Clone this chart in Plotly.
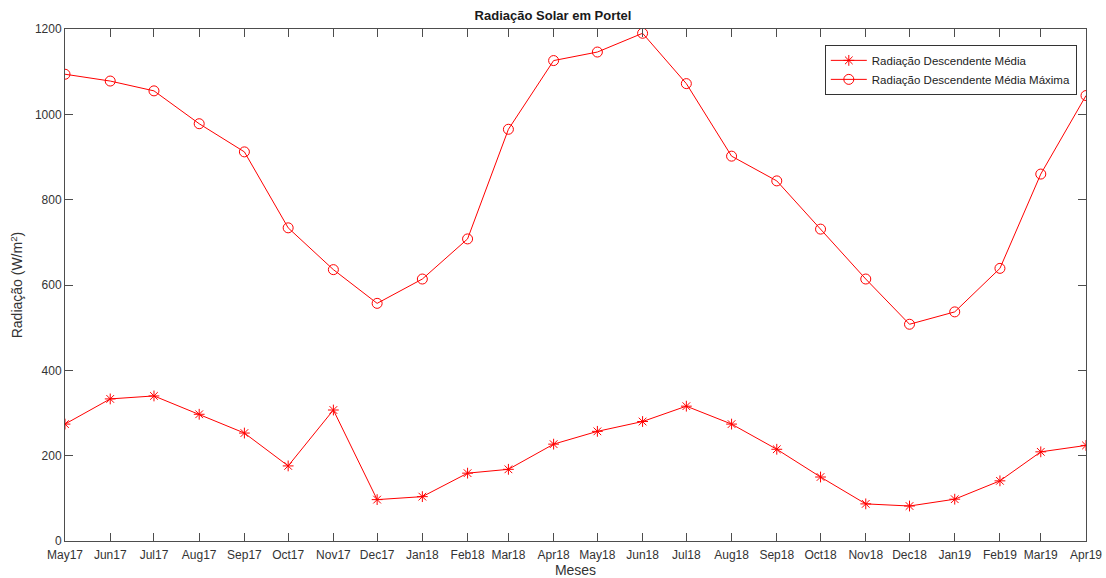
import plotly.graph_objects as go

# Monthly series, May 2017 – April 2019
months = ["2017-05-01", "2017-06-01", "2017-07-01", "2017-08-01", "2017-09-01", "2017-10-01",
          "2017-11-01", "2017-12-01", "2018-01-01", "2018-02-01", "2018-03-01", "2018-04-01",
          "2018-05-01", "2018-06-01", "2018-07-01", "2018-08-01", "2018-09-01", "2018-10-01",
          "2018-11-01", "2018-12-01", "2019-01-01", "2019-02-01", "2019-03-01", "2019-04-01"]

rad_media = [274, 333, 340, 297, 253, 176, 307, 97, 104, 159, 168, 227,
             257, 280, 316, 274, 215, 150, 87, 82, 98, 141, 209, 224]

rad_media_max = [1094, 1078, 1055, 978, 912, 734, 636, 557, 614, 708, 965, 1126,
                 1146, 1190, 1072, 902, 844, 731, 614, 508, 537, 639, 860, 1044]

y_ticks = [0, 200, 400, 600, 800, 1000, 1200]

RED = "#ff0000"
AXIS = "#4d4d4d"
FONT = "Liberation Sans, Arial, sans-serif"

fig = go.Figure()
fig.add_trace(go.Scatter(
    x=months, y=rad_media, mode="lines+markers",
    name="Radiação Descendente Média",
    line=dict(color=RED, width=1),
    marker=dict(symbol="asterisk-open", size=9, color=RED, line=dict(color=RED, width=1)),
))
fig.add_trace(go.Scatter(
    x=months, y=rad_media_max, mode="lines+markers",
    name="Radiação Descendente Média Máxima",
    line=dict(color=RED, width=1),
    marker=dict(symbol="circle-open", size=10, color=RED, line=dict(color=RED, width=1)),
))

fig.update_layout(
    width=1106, height=578,
    margin=dict(l=65, r=20, t=29, b=37, autoexpand=False),
    paper_bgcolor="white", plot_bgcolor="white",
    font=dict(family=FONT, size=12, color="#333333"),
    title=dict(text="<b>Radiação Solar em Portel</b>", x=0.5, xanchor="center",
               y=1 - 15 / 578, yanchor="middle", font=dict(size=13, color="#1a1a1a")),
    legend=dict(x=0.991, y=0.969, xanchor="right", yanchor="top",
                bgcolor="white", bordercolor="#333333", borderwidth=1,
                font=dict(size=11.5, color="#222222"), tracegroupgap=0,
                itemwidth=36),
    showlegend=True,
)

fig.update_xaxes(
    type="date", range=[months[0], months[-1]],
    tick0=months[0], dtick="M1", tickformat="%b%y",
    ticks="inside", ticklen=8, tickcolor=AXIS,
    showline=True, linecolor=AXIS, linewidth=1, mirror="ticks",
    showgrid=False, zeroline=False, automargin=False,
    ticklabelstandoff=3,
    tickfont=dict(size=12, color="#333333"),
    title=dict(text="Meses", font=dict(size=14, color="#333333"), standoff=8),
)
fig.update_yaxes(
    range=[0, 1200], tickvals=y_ticks,
    ticks="inside", ticklen=8, tickcolor=AXIS,
    showline=True, linecolor=AXIS, linewidth=1, mirror="ticks",
    showgrid=False, zeroline=False, automargin=False,
    tickfont=dict(size=12, color="#333333"),
    title=dict(text="Radiação (W/m<sup>2</sup>)", font=dict(size=14, color="#333333"), standoff=8),
)

fig.write_html("out.html")
